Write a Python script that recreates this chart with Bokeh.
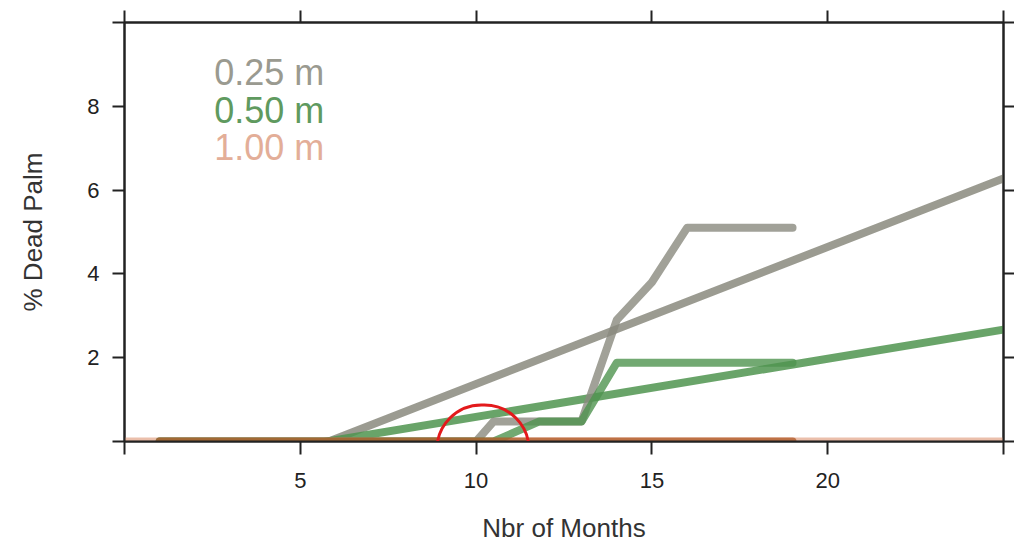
from bokeh.plotting import figure
from bokeh.models import (ColumnDataSource, LinearAxis, FixedTicker, Range1d,
                          HTMLLabel)
from bokeh.core.properties import value
from bokeh.embed import file_html
from bokeh.resources import INLINE

# ---------------- data ----------------
series_names = ["0.25 m", "0.50 m", "1.00 m"]

months_025 = [1, 10, 10.5, 13, 14, 15, 16, 19]
dead_025 = [0, 0, 0.48, 0.48, 2.9, 3.8, 5.1, 5.1]

months_050 = [1, 10.5, 11.8, 13, 14, 19]
dead_050 = [0, 0, 0.48, 0.48, 1.88, 1.88]

months_100 = [1, 19]
dead_100 = [0, 0]

# fitted (regression) lines, evaluated at the ends of the axis
fit_months = [0, 25]
fit_025 = [-1.90, 6.28]
fit_050 = [-0.80, 2.67]
fit_100 = [0, 0]

x_ticks = [0, 5, 10, 15, 20, 25]
y_ticks = [0, 2, 4, 6, 8, 10]

# highlight circle (annotation), centre in data units
circle_center = (10.22, -0.21)

# ---------------- styles ----------------
FONT = "Liberation Sans"
data_colors = ["#8a8a7e", "#4f944f", "#b35e2c"]
fit_colors = ["#8a8a7e", "#4f944f", "#e8b49c"]
text_colors = ["#9a9a90", "#5f9a5f", "#e3ae98"]
LW = 8

p = figure(width=1014, height=545, output_backend="svg", toolbar_location=None,
           x_range=Range1d(0, 25), y_range=Range1d(0, 10),
           x_axis_location=None, y_axis_location=None,
           min_border_left=124, min_border_right=11,
           min_border_top=22, min_border_bottom=103)
p.background_fill_color = "white"
p.border_fill_color = "white"
p.outline_line_color = "#222222"
p.outline_line_width = 2
p.xgrid.visible = False
p.ygrid.visible = False

def style_axis(ax, ticks, show_labels, tick_out):
    ax.ticker = FixedTicker(ticks=ticks)
    ax.axis_line_color = "#222222"
    ax.axis_line_width = 2
    ax.major_tick_line_color = "#222222"
    ax.major_tick_line_width = 2
    ax.major_tick_out = tick_out
    ax.major_tick_in = 0
    ax.minor_tick_line_color = None
    ax.major_label_text_font = FONT
    ax.major_label_text_color = "#222222"
    ax.major_label_text_font_size = "22px"
    if show_labels:
        ax.major_label_overrides = {ticks[0]: "", ticks[-1]: ""}
    else:
        ax.major_label_overrides = {t: "" for t in ticks}
        ax.major_label_text_font_size = "0px"
        ax.major_label_standoff = 0

bottom = LinearAxis(axis_label="Nbr of Months")
style_axis(bottom, x_ticks, True, 13)
bottom.major_label_standoff = 18
bottom.axis_label_text_font = FONT
bottom.axis_label_text_font_size = "26px"
bottom.axis_label_text_font_style = "normal"
bottom.axis_label_text_color = "#333333"
bottom.axis_label_standoff = 22
p.add_layout(bottom, "below")

left = LinearAxis(axis_label="% Dead Palm")
style_axis(left, y_ticks, True, 12)
left.major_label_standoff = 13
left.axis_label_text_font = FONT
left.axis_label_text_font_size = "26px"
left.axis_label_text_font_style = "normal"
left.axis_label_text_color = "#333333"
left.axis_label_standoff = 36
p.add_layout(left, "left")

top = LinearAxis()
style_axis(top, x_ticks, False, 12)
p.add_layout(top, "above")

right = LinearAxis()
style_axis(right, y_ticks, False, 11)
p.add_layout(right, "right")

# ---------------- lines ----------------
fits = [fit_025, fit_050, fit_100]
datas = [(months_025, dead_025), (months_050, dead_050), (months_100, dead_100)]

for i in range(3):
    p.line(fit_months, fits[i], line_color=fit_colors[i], line_width=LW,
           line_alpha=0.85, line_cap="round", line_join="round")
for i in range(3):
    mx, dy = datas[i]
    p.line(mx, dy, line_color=data_colors[i], line_width=LW,
           line_alpha=0.8, line_cap="round", line_join="round")

# ---------------- key (coloured text) ----------------
key_x = 2.55
key_y0 = 8.80
key_step = 0.893
key_src = ColumnDataSource(dict(
    x=[key_x] * 3,
    y=[key_y0 - i * key_step for i in range(3)],
    text=series_names,
    color=text_colors,
))
p.text(x="x", y="y", text="text", text_color="color", source=key_src,
       text_font=value(FONT), text_font_size=value("36px"),
       text_baseline="middle", text_align="left")

# ---------------- red highlight circle (HTML overlay, not clipped) ----------------
circ = HTMLLabel(x=circle_center[0], y=circle_center[1], text="&nbsp;",
                 text_font_size="1px", text_align="center", text_baseline="middle",
                 padding=43, border_radius=46,
                 border_line_color="#e31a1c", border_line_width=3.5,
                 border_line_alpha=1.0, background_fill_color=None)
p.add_layout(circ)

open("out.html", "w").write(file_html(p, INLINE))
